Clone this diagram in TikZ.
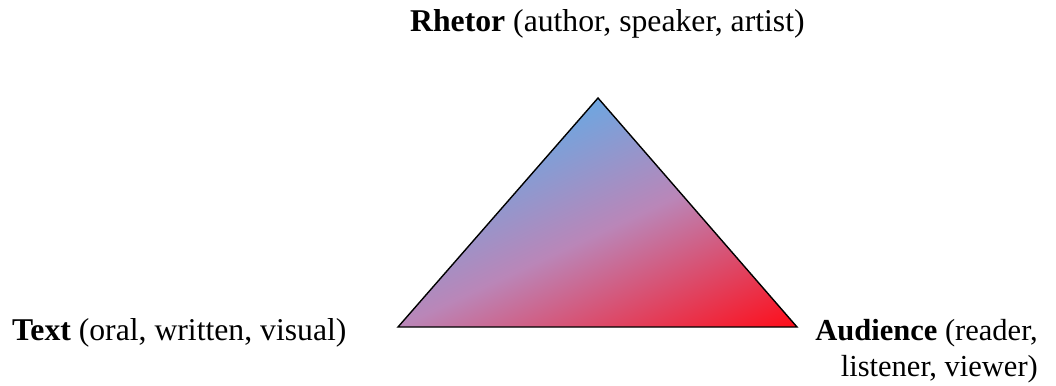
\documentclass[tikz,border=0pt]{standalone}
\usepackage{fontspec}
\setmainfont{Liberation Serif}
\usetikzlibrary{calc}
\definecolor{triblue}{RGB}{110,166,224}
\definecolor{trimid}{RGB}{186,134,184}
\definecolor{trired}{RGB}{255,12,24}
\pgfdeclareverticalshading{trishade}{100bp}{color(0bp)=(trired); color(25bp)=(trired); color(54bp)=(trimid); color(75bp)=(triblue); color(100bp)=(triblue)}
\tikzset{
  lbl/.style={inner sep=0pt, font=\fontsize{31.7}{37}\selectfont},
  lblsmall/.style={inner sep=0pt, font=\fontsize{30.5}{36}\selectfont},
  edge/.style={draw=black, line width=1.4pt, line join=miter}
}
\begin{document}
\begin{tikzpicture}[x=1pt,y=1pt]
\useasboundingbox (0,0) rectangle (1056,-385);
\coordinate (T) at (598,-98);
\coordinate (L) at (398,-327);
\coordinate (R) at (797,-327);
\begin{scope}
  \clip (T) -- (L) -- (R) -- cycle;
  \begin{scope}[transform canvas={rotate around={25:(T)}}]
    \shade[shading=trishade] ($(T)+(-420,-292)$) rectangle ($(T)+(420,0)$);
  \end{scope}
\end{scope}
\path[edge] (T) -- (L) -- (R) -- cycle;
\node[lbl, anchor=base west] (rhetor) at (410,-32) {\textbf{Rhetor} (author, speaker, artist)};
\node[lbl, anchor=base west] (text) at (12,-340) {\textbf{Text} (oral, written, visual)};
\node[lblsmall, anchor=north east, align=right] (aud) at (1038,-319) {\textbf{Audience} (reader,\\ listener, viewer)};
\end{tikzpicture}
\end{document}
